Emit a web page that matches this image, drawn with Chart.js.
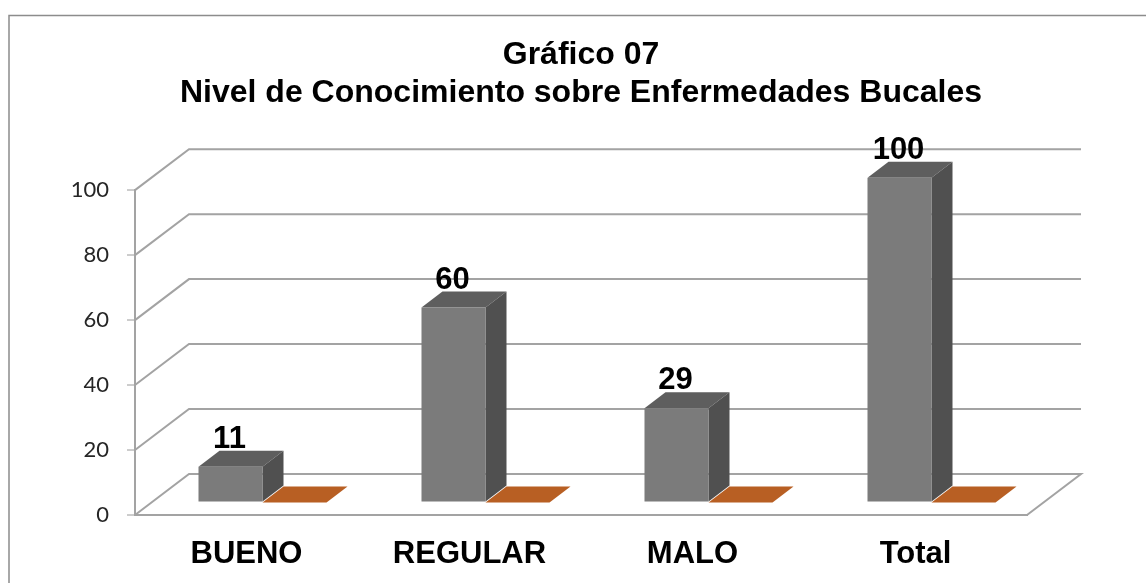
<!DOCTYPE html>
<html>
<head>
<meta charset="utf-8">
<title>Gráfico 07</title>
<script src="https://cdn.jsdelivr.net/npm/chart.js@4/dist/chart.umd.min.js"></script>
<style>
  html, body { margin: 0; padding: 0; background: #fff; }
  #wrap { width: 1146px; height: 583px; }
</style>
</head>
<body>
<div id="wrap"><canvas id="chartNivel"></canvas></div>
<script>
const categorias = ["BUENO", "REGULAR", "MALO", "Total"];
const serie1 = [11, 60, 29, 100];
const serie2 = [0, 0, 0, 0];
const etiquetas1 = ["11", "60", "29", "100"];
const titulo = ["Gráfico 07", "Nivel de Conocimiento sobre Enfermedades Bucales"];

// profundidad del piso (pared del fondo) y de las barras
const fondoX = 54, fondoY = -41;
const barraOffX = 16, barraOffY = -12.5;
const profX = 21, profY = -16;
const colorLinea = "#a3a3a3";
const arial = "'Liberation Sans', Arial, sans-serif";

// dibuja paredes, piso y caras 3D antes de las barras reales
const plano3d = {
  id: "plano3d",
  beforeDraw(chart) {
    const ctx = chart.ctx;
    ctx.save();
    ctx.fillStyle = "#fff";
    ctx.fillRect(0, 0, chart.width, chart.height);
    ctx.strokeStyle = "#8c8c8c";
    ctx.lineWidth = 1.5;
    ctx.beginPath();
    ctx.moveTo(9, 583);
    ctx.lineTo(9, 15.5);
    ctx.lineTo(1146, 15.5);
    ctx.stroke();
    ctx.restore();
  },
  beforeDatasetsDraw(chart) {
    const ctx = chart.ctx;
    const { left, right } = chart.chartArea;
    const y = chart.scales.y;
    ctx.save();
    ctx.strokeStyle = colorLinea;
    ctx.lineWidth = 2;
    y.ticks.forEach((t) => {
      const py = y.getPixelForValue(t.value);
      ctx.beginPath();
      ctx.moveTo(left, py);
      ctx.lineTo(left + fondoX, py + fondoY);
      ctx.lineTo(right + fondoX, py + fondoY);
      if (t.value === 0) ctx.lineTo(right, py);
      ctx.stroke();
    });
    ctx.restore();
  },
  beforeDatasetDraw(chart, args) {
    const ctx = chart.ctx;
    const meta = chart.getDatasetMeta(args.index);
    const ds = chart.data.datasets[args.index];
    ctx.save();
    ctx.translate(barraOffX, barraOffY);
    meta.data.forEach((bar) => {
      const x0 = bar.x - bar.width / 2;
      const x1 = bar.x + bar.width / 2;
      ctx.fillStyle = ds.colorTapa;
      ctx.beginPath();
      ctx.moveTo(x0, bar.y);
      ctx.lineTo(x0 + profX, bar.y + profY);
      ctx.lineTo(x1 + profX, bar.y + profY);
      ctx.lineTo(x1, bar.y);
      ctx.closePath();
      ctx.fill();
      if (bar.base - bar.y > 0) {
        ctx.fillStyle = ds.colorLado;
        ctx.beginPath();
        ctx.moveTo(x1, bar.y);
        ctx.lineTo(x1 + profX, bar.y + profY);
        ctx.lineTo(x1 + profX, bar.base + profY);
        ctx.lineTo(x1, bar.base);
        ctx.closePath();
        ctx.fill();
      }
    });
  },
  afterDatasetDraw(chart) {
    chart.ctx.restore();
  },
  afterDatasetsDraw(chart) {
    const ctx = chart.ctx;
    const meta = chart.getDatasetMeta(0);
    ctx.save();
    ctx.fillStyle = "#000";
    ctx.font = "bold 31px " + arial;
    ctx.textAlign = "center";
    ctx.textBaseline = "alphabetic";
    meta.data.forEach((bar, i) => {
      ctx.fillText(etiquetas1[i], bar.x + barraOffX - 1, bar.y + barraOffY + profY - 3);
    });
    ctx.restore();
  },
};

new Chart(document.getElementById("chartNivel"), {
  type: "bar",
  data: {
    labels: categorias,
    datasets: [
      { label: "Serie 1", data: serie1, backgroundColor: "#7b7b7b", colorTapa: "#5e5e5e", colorLado: "#505050" },
      { label: "Serie 2", data: serie2, backgroundColor: "#b85f23", colorTapa: "#b85f23", colorLado: "#8a4719" },
    ],
  },
  plugins: [plano3d],
  options: {
    responsive: true,
    maintainAspectRatio: false,
    animation: false,
    layout: { padding: { top: 0, right: 119, bottom: 0, left: 0 } },
    categoryPercentage: 0.574,
    barPercentage: 1,
    plugins: {
      legend: { display: false },
      tooltip: { enabled: false },
      title: {
        display: true,
        fullSize: false,
        text: titulo,
        color: "#000",
        font: { family: arial, size: 32, weight: "bold", lineHeight: 1.19 },
        padding: { top: 36, bottom: 78 },
      },
    },
    scales: {
      x: {
        grid: { display: false },
        border: { display: true, color: colorLinea, width: 2 },
        ticks: { color: "#000", font: { family: arial, size: 31, weight: "bold" }, padding: 13, maxRotation: 0 },
        afterFit(s) { s.height = 68; },
      },
      y: {
        min: 0,
        max: 100,
        grid: { drawOnChartArea: false, drawTicks: true, tickLength: 8, tickColor: "#9a9a9a", tickWidth: 1, color: colorLinea, lineWidth: 2 },
        border: { display: true, color: colorLinea, width: 2 },
        ticks: { stepSize: 20, color: "#262626", font: { family: "Lato, sans-serif", size: 22 }, padding: 18 },
        afterFit(s) { s.width = 135; },
      },
    },
  },
});
</script>
</body>
</html>
